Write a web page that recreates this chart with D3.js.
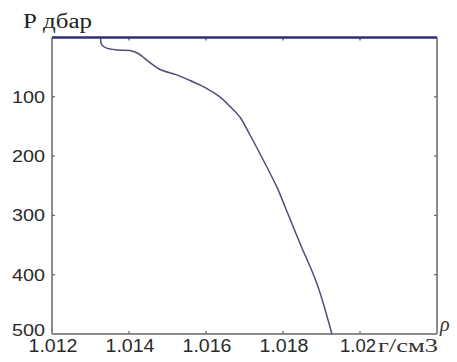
<!DOCTYPE html>
<html>
<head>
<meta charset="utf-8">
<script src="https://cdn.jsdelivr.net/npm/d3@7"></script>
<style>
  body { margin: 0; background: #fff; }
  svg { display: block; }
</style>
</head>
<body>
<div id="chart"></div>
<script>
// density (g/cm3) vs pressure (dbar)
const density = [1.01326, 1.01326, 1.01329, 1.01342, 1.01371, 1.01403, 1.01424, 1.01446, 1.01481,
  1.01524, 1.01567, 1.01584, 1.01610, 1.01636, 1.01662, 1.01688, 1.01714, 1.01749, 1.01784,
  1.01805, 1.01844, 1.01888, 1.01927];
const pressure = [0, 1, 12, 18, 21, 22, 27, 38, 54, 63, 75, 80, 89, 100, 116, 134, 164, 207, 252,
  285, 347, 415, 500];
const xTicks = [1.012, 1.014, 1.016, 1.018, 1.02];
const xTickLabels = ['1.012', '1.014', '1.016', '1.018', '1.02'];
const yTicks = [100, 200, 300, 400, 500];

const W = 457, H = 362;
const margin = { top: 37.5, right: 20, bottom: 28, left: 52 };

const svg = d3.select('#chart').append('svg')
  .attr('width', W)
  .attr('height', H);

const x = d3.scaleLinear().domain([1.012, 1.022]).range([margin.left, W - margin.right]);
const y = d3.scaleLinear().domain([0, 500]).range([margin.top, H - margin.bottom]);

const labelFont = '"Liberation Sans", Arial, sans-serif';
const serifFont = '"Liberation Serif", "Times New Roman", serif';

// frame: left, right, bottom in grey
const grey = '#8c8c8c';
svg.append('line').attr('x1', x(1.012)).attr('x2', x(1.012)).attr('y1', y(0)).attr('y2', y(500))
  .attr('stroke', grey).attr('stroke-width', 2);
svg.append('line').attr('x1', x(1.022)).attr('x2', x(1.022)).attr('y1', y(0)).attr('y2', y(500))
  .attr('stroke', grey).attr('stroke-width', 2);
svg.append('line').attr('x1', x(1.012)).attr('x2', x(1.022)).attr('y1', y(500)).attr('y2', y(500))
  .attr('stroke', grey).attr('stroke-width', 2);

// inward ticks
const tickColor = '#666';
svg.selectAll('.tb').data(xTicks.slice(1)).enter().append('line')
  .attr('x1', d => x(d)).attr('x2', d => x(d))
  .attr('y1', y(500)).attr('y2', y(500) - 3)
  .attr('stroke', tickColor).attr('stroke-width', 1.2);
svg.selectAll('.tt').data(xTicks.slice(1)).enter().append('line')
  .attr('x1', d => x(d)).attr('x2', d => x(d))
  .attr('y1', y(0)).attr('y2', y(0) + 3)
  .attr('stroke', '#3a3a78').attr('stroke-width', 1.2);
svg.selectAll('.tl').data(yTicks.slice(0, -1)).enter().append('line')
  .attr('x1', x(1.012)).attr('x2', x(1.012) + 3)
  .attr('y1', d => y(d)).attr('y2', d => y(d))
  .attr('stroke', tickColor).attr('stroke-width', 1.2);
svg.selectAll('.tr').data(yTicks.slice(0, -1)).enter().append('line')
  .attr('x1', x(1.022)).attr('x2', x(1.022) - 3)
  .attr('y1', d => y(d)).attr('y2', d => y(d))
  .attr('stroke', tickColor).attr('stroke-width', 1.2);

// density profile
const line = d3.line()
  .x(d => x(d[0]))
  .y(d => y(d[1]))
  .curve(d3.curveCatmullRom.alpha(0.5));
svg.append('path')
  .datum(density.map((d, i) => [d, pressure[i]]))
  .attr('fill', 'none')
  .attr('stroke', '#4b4f7a')
  .attr('stroke-width', 1.5)
  .attr('d', line);

// top border drawn in navy
svg.append('line').attr('x1', x(1.012)).attr('x2', x(1.022)).attr('y1', y(0)).attr('y2', y(0))
  .attr('stroke', '#2f2f73').attr('stroke-width', 2.5);

// y labels
svg.selectAll('.yl').data(yTicks).enter().append('text')
  .attr('x', x(1.012) - 7)
  .attr('y', d => d === 500 ? y(d) - 4 : y(d))
  .attr('dy', '0.35em')
  .attr('text-anchor', 'end')
  .attr('font-family', labelFont)
  .attr('font-size', 17)
  .attr('textLength', 33)
  .attr('lengthAdjust', 'spacingAndGlyphs')
  .attr('fill', '#2a2a2a')
  .text(d => d);

// x labels
svg.selectAll('.xl').data(xTicks).enter().append('text')
  .attr('x', (d, i) => x(d) + (i === 4 ? -2 : 1))
  .attr('y', 352)
  .attr('text-anchor', 'middle')
  .attr('font-family', labelFont)
  .attr('font-size', 18)
  .attr('textLength', (d, i) => i === 4 ? 36 : 49)
  .attr('lengthAdjust', 'spacingAndGlyphs')
  .attr('fill', '#2a2a2a')
  .text((d, i) => xTickLabels[i]);

// units
svg.append('text')
  .attr('x', 378).attr('y', 352)
  .attr('font-family', serifFont)
  .attr('font-size', 18)
  .attr('textLength', 60)
  .attr('lengthAdjust', 'spacingAndGlyphs')
  .attr('fill', '#333')
  .text('г/см3');

svg.append('text')
  .attr('x', 23).attr('y', 28)
  .attr('font-family', serifFont)
  .attr('font-size', 20)
  .attr('textLength', 69)
  .attr('lengthAdjust', 'spacingAndGlyphs')
  .attr('fill', '#222')
  .text('Р дбар');

svg.append('text')
  .attr('x', 440).attr('y', 331)
  .attr('font-family', serifFont)
  .attr('font-style', 'italic')
  .attr('font-size', 20)
  .attr('fill', '#333')
  .text('ρ');
</script>
</body>
</html>
